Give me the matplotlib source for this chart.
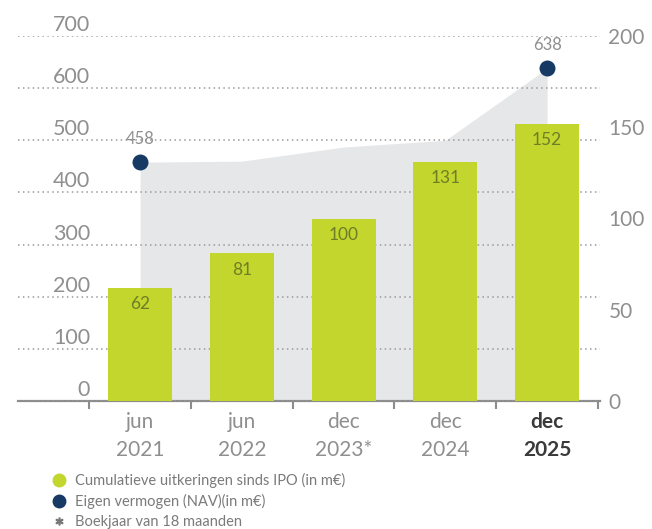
import matplotlib
matplotlib.use('Agg')
import matplotlib.pyplot as plt
from matplotlib.lines import Line2D
from matplotlib.transforms import ScaledTranslation

plt.rcParams['font.family'] = ['Lato', 'DejaVu Sans']

# data
periods = ['jun\n2021', 'jun\n2022', 'dec\n2023*', 'dec\n2024', 'dec\n2025']
uitkeringen = [62, 81, 100, 131, 152]          # cumulatief sinds IPO, rechter as
nav = [458, 460, 487, 500, 638]                 # eigen vermogen, linker as
nav_labels = {0: '458', 4: '638'}
left_ticks = [0, 100, 200, 300, 400, 500, 600, 700]
right_ticks = [0, 50, 100, 150, 200]

green = '#c2d62e'
navy = '#173a64'
grey_area = '#e6e7e9'
txt = '#8f8f8f'

fig = plt.figure(figsize=(6.52, 5.29), dpi=100)
ax = fig.add_axes([18/652, 1-401/529, 582/652, 365/529])
x = list(range(len(periods)))

ax.set_xlim(-1.2, 4.52)
ax.set_ylim(0, 700)
ax.fill_between(x, nav, 0, color=grey_area, lw=0, zorder=1)
ax.scatter([x[0], x[-1]], [nav[0], nav[-1]], s=110, color=navy, zorder=4)
for i, lab in nav_labels.items():
    ax.annotate(lab, (x[i], nav[i]), xytext=(0, 17), textcoords='offset points',
                ha='center', va='center', fontsize=12, color=txt)

ax.set_yticks(left_ticks)
ax.yaxis.grid(True, color='#9a9a9a', linestyle=(0, (1, 2.2)), linewidth=1.1, zorder=2)
ax.set_axisbelow(False)
ax.tick_params(axis='y', length=0, pad=-52, labelsize=15.5, labelcolor=txt)
for lab in ax.get_yticklabels():
    lab.set_transform(lab.get_transform() + ScaledTranslation(0, 13/100, fig.dpi_scale_trans))

for s in ['left', 'right', 'top']:
    ax.spines[s].set_visible(False)
ax.spines['bottom'].set_color('#8c8c8c')
ax.spines['bottom'].set_linewidth(1.6)
ax.patch.set_visible(False)

ax.set_xticks(x)
ax.set_xticklabels(periods, fontsize=15, color=txt, linespacing=1.5)
ax.tick_params(axis='x', which='major', length=0, pad=8)
ax.set_xticks([i - 0.5 for i in range(len(periods) + 1)], minor=True)
ax.tick_params(axis='x', which='minor', length=6, width=1.5, color='#8c8c8c', direction='out')
last = ax.get_xticklabels()[-1]
last.set_fontweight('bold')
last.set_color('#3a3a3a')

ax2 = ax.twinx()
ax2.set_ylim(0, 200)
ax2.set_xlim(-1.2, 4.52)
ax2.bar(x, uitkeringen, width=0.63, color=green, zorder=3)
for xi, v in zip(x, uitkeringen):
    ax2.annotate(str(v), (xi, v), xytext=(0, -6), textcoords='offset points',
                 ha='center', va='top', fontsize=12.5, color='#6f7d26')
ax2.set_yticks(right_ticks)
ax2.tick_params(axis='y', length=0, pad=6, labelsize=15, labelcolor=txt)
for s in ['left', 'right', 'top', 'bottom']:
    ax2.spines[s].set_visible(False)
ax2.patch.set_visible(False)

handles = [
    Line2D([], [], marker='o', ls='', color=green, markersize=9),
    Line2D([], [], marker='o', ls='', color=navy, markersize=9),
    Line2D([], [], marker='$*$', ls='', color='#777777', markersize=5),
]
names = ['Cumulatieve uitkeringen sinds IPO (in m€)', 'Eigen vermogen (NAV)(in m€)',
         'Boekjaar van 18 maanden']
fig.legend(handles, names, loc='upper left', bbox_to_anchor=(50/652, 1-473/529),
           frameon=False, fontsize=10.5, labelcolor='#7a7a7a', handletextpad=0.5,
           handlelength=1.2, labelspacing=0.4, borderaxespad=0, borderpad=0)

fig.savefig('out.png', dpi=100)
